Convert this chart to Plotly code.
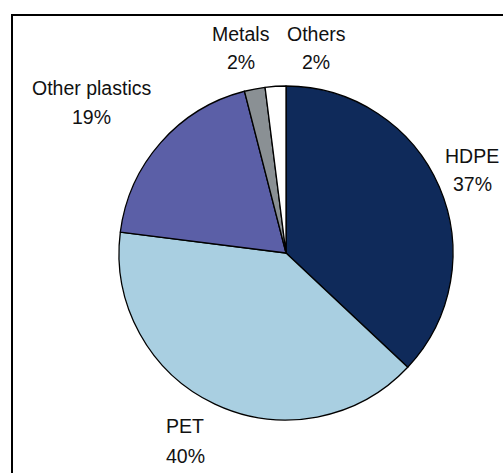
import plotly.graph_objects as go

labels = ["HDPE", "PET", "Other plastics", "Metals", "Others"]
values = [37, 40, 19, 2, 2]
colors = ["#0F2A5A", "#A9CFE1", "#5B5FA7", "#8A9094", "#FFFFFF"]

# label positions (pixels): name line / percent line
label_x = [472, 185, 91, 241, 316]
name_y = [156, 426, 88, 34, 34]
pct_y = [184, 456, 117, 62, 62]

W, H = 503, 473

fig = go.Figure(go.Pie(
    labels=labels, values=values, sort=False, direction="clockwise", rotation=0,
    marker=dict(colors=colors, line=dict(color="#000000", width=1.3)),
    textinfo="none", hoverinfo="label+percent", showlegend=False,
    domain=dict(x=[119 / W, 453 / W], y=[1 - 420 / H, 1 - 86 / H]),
))

font = dict(family="Liberation Sans, Arial, sans-serif", size=19.5, color="#111111")
for lab, v, x, ny, py in zip(labels, values, label_x, name_y, pct_y):
    fig.add_annotation(x=x / W, y=1 - ny / H, xref="paper", yref="paper", text=lab,
                       showarrow=False, xanchor="center", yanchor="middle", font=font)
    fig.add_annotation(x=x / W, y=1 - py / H, xref="paper", yref="paper", text=f"{v}%",
                       showarrow=False, xanchor="center", yanchor="middle", font=font)

fig.add_shape(type="rect", xref="paper", yref="paper",
              x0=12 / W, x1=1.05, y0=-0.05, y1=1 - 15 / H,
              line=dict(color="#000000", width=2), fillcolor="rgba(0,0,0,0)")

fig.update_layout(width=W, height=H, margin=dict(l=0, r=0, t=0, b=0),
                  paper_bgcolor="white", plot_bgcolor="white")
fig.write_html("out.html")
